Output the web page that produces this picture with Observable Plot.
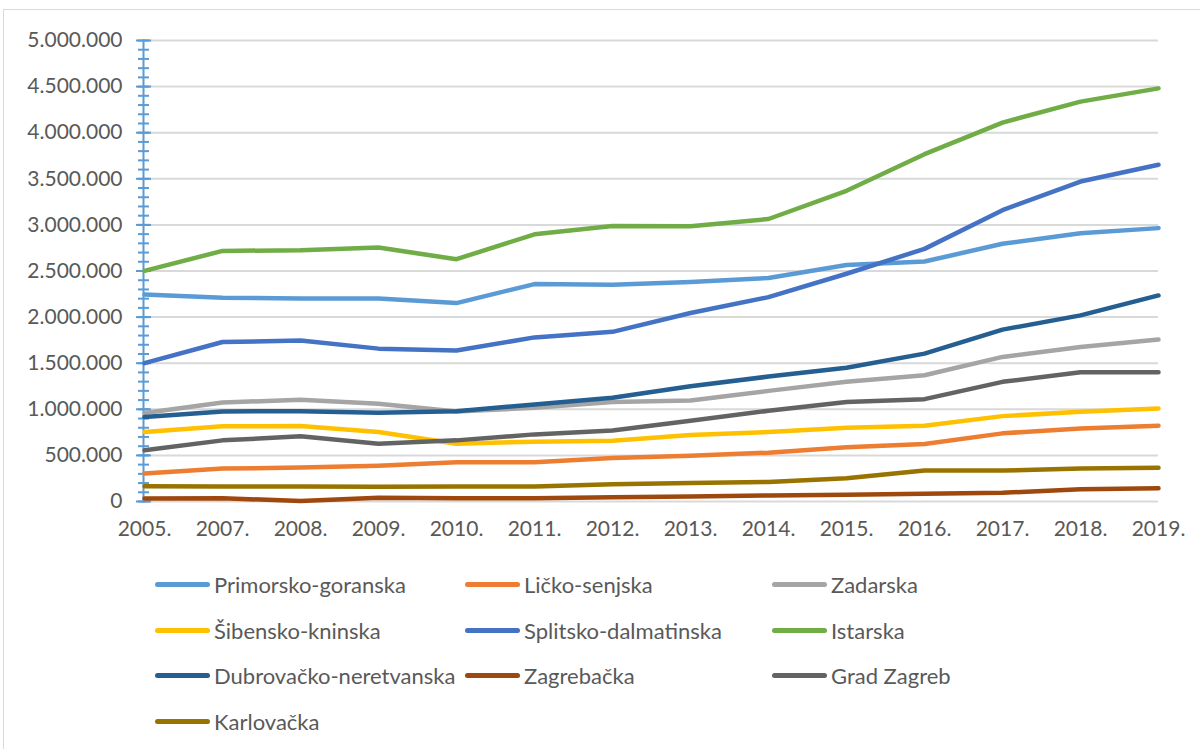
<!DOCTYPE html>
<html>
<head>
<meta charset="utf-8">
<script src="https://cdn.jsdelivr.net/npm/d3@7"></script>
<script src="https://cdn.jsdelivr.net/npm/@observablehq/plot@0.6"></script>
<style>
  html, body { margin: 0; padding: 0; background: #fff; overflow: hidden; }
  #wrap { position: relative; width: 1200px; height: 749px; font-family: Lato, "Open Sans", sans-serif; }
  #border { position: absolute; left: 3px; top: 9px; width: 1300px; height: 900px; border: 1px solid #d9d9d9; box-sizing: border-box; }
  #chart { position: absolute; left: 0; top: 0; }
  #legend { position: absolute; left: 155px; top: 562px; display: grid; grid-template-columns: 310px 307px 330px; grid-auto-rows: 45.5px; align-items: center; }
  .item { display: flex; align-items: center; font-size: 22px; color: #595959; white-space: nowrap; }
  .sw { width: 55px; height: 5px; border-radius: 3px; margin-right: 4px; flex: none; }
</style>
</head>
<body>
<div id="wrap">
  <div id="border"></div>
  <div id="chart"></div>
  <div id="legend"></div>
</div>
<script>
const years = ["2005.","2007.","2008.","2009.","2010.","2011.","2012.","2013.","2014.","2015.","2016.","2017.","2018.","2019."];

const seriesNames = ["Primorsko-goranska","Ličko-senjska","Zadarska","Šibensko-kninska","Splitsko-dalmatinska","Istarska","Dubrovačko-neretvanska","Zagrebačka","Grad Zagreb","Karlovačka"];
const seriesColors = ["#5B9BD5","#ED7D31","#A5A5A5","#FFC000","#4472C4","#70AD47","#255E91","#9E480E","#636363","#997300"];

const primorsko  = [2245000, 2210000, 2203000, 2203000, 2152000, 2358000, 2352000, 2380000, 2424000, 2565000, 2603000, 2795000, 2910000, 2965000];
const licko      = [303000, 357000, 368000, 389000, 425000, 425000, 472000, 497000, 530000, 588000, 624000, 739000, 793000, 822000];
const zadarska   = [959000, 1074000, 1103000, 1060000, 977000, 1017000, 1079000, 1095000, 1200000, 1298000, 1370000, 1568000, 1676000, 1756000];
const sibensko   = [753000, 815000, 818000, 753000, 627000, 649000, 660000, 721000, 753000, 800000, 822000, 926000, 973000, 1009000];
const splitsko   = [1500000, 1730000, 1745000, 1658000, 1637000, 1780000, 1840000, 2044000, 2217000, 2470000, 2740000, 3160000, 3470000, 3652000];
const istarska   = [2502000, 2718000, 2725000, 2754000, 2628000, 2898000, 2989000, 2985000, 3064000, 3370000, 3767000, 4110000, 4337000, 4481000];
const dubrovacko = [916000, 977000, 980000, 963000, 980000, 1053000, 1125000, 1250000, 1355000, 1450000, 1604000, 1864000, 2019000, 2235000];
const zagrebacka = [32000, 36000, 5000, 40000, 36000, 36000, 45000, 55000, 65000, 72000, 83000, 94000, 133000, 144000];
const gradZagreb = [555000, 663000, 707000, 627000, 663000, 728000, 771000, 875000, 984000, 1080000, 1110000, 1298000, 1402000, 1402000];
const karlovacka = [166000, 162000, 163000, 160000, 162000, 163000, 187000, 200000, 212000, 252000, 335000, 335000, 358000, 367000];

const yTicks = [0, 500000, 1000000, 1500000, 2000000, 2500000, 3000000, 3500000, 4000000, 4500000, 5000000];
const yMinorTicks = d3.range(0, 5000001, 100000);

const seriesValues = [primorsko, licko, zadarska, sibensko, splitsko, istarska, dubrovacko, zagrebacka, gradZagreb, karlovacka];
const table = [];
seriesNames.forEach((name, i) => {
  seriesValues[i].forEach((v, j) => table.push({series: name, year: years[j], value: v}));
});

const fmt = d3.formatLocale({decimal: ",", thousands: ".", grouping: [3], currency: ["", ""]}).format(",");

const chart = Plot.plot({
  width: 1200,
  height: 550,
  marginLeft: 143,
  marginRight: 42,
  marginTop: 40,
  marginBottom: 49,
  style: {fontFamily: "Lato, 'Open Sans', sans-serif", fontSize: "21px", color: "#595959", background: "transparent"},
  x: {type: "point", domain: years, padding: 0},
  y: {domain: [0, 5000000]},
  color: {domain: seriesNames, range: seriesColors},
  marks: [
    Plot.gridY(yTicks, {stroke: "#d9d9d9", strokeOpacity: 1, strokeWidth: 2}),
    Plot.frame({anchor: "left", stroke: "#5b9bd5", strokeWidth: 2}),
    Plot.axisY(yMinorTicks, {tickSize: 11, dx: 6, stroke: "#5b9bd5", strokeWidth: 2, tickFormat: () => "", label: null}),
    Plot.axisY(yTicks, {tickSize: 15, dx: 8, stroke: "#5b9bd5", strokeWidth: 2, tickFormat: () => "", label: null}),
    Plot.axisY(yTicks, {tickSize: 0, tickPadding: 21, tickFormat: fmt, fill: "#595959", label: null}),
    Plot.axisX({tickSize: 0, tickPadding: 20, fill: "#595959", label: null}),
    Plot.line(table, {x: "year", y: "value", z: "series", stroke: "series", strokeWidth: 4.5, strokeLinejoin: "round", strokeLinecap: "round"})
  ]
});
document.getElementById("chart").appendChild(chart);

const legend = document.getElementById("legend");
seriesNames.forEach((name, i) => {
  const item = document.createElement("div");
  item.className = "item";
  const sw = document.createElement("span");
  sw.className = "sw";
  sw.style.background = seriesColors[i];
  const label = document.createElement("span");
  label.textContent = name;
  item.appendChild(sw);
  item.appendChild(label);
  legend.appendChild(item);
});
</script>
</body>
</html>
